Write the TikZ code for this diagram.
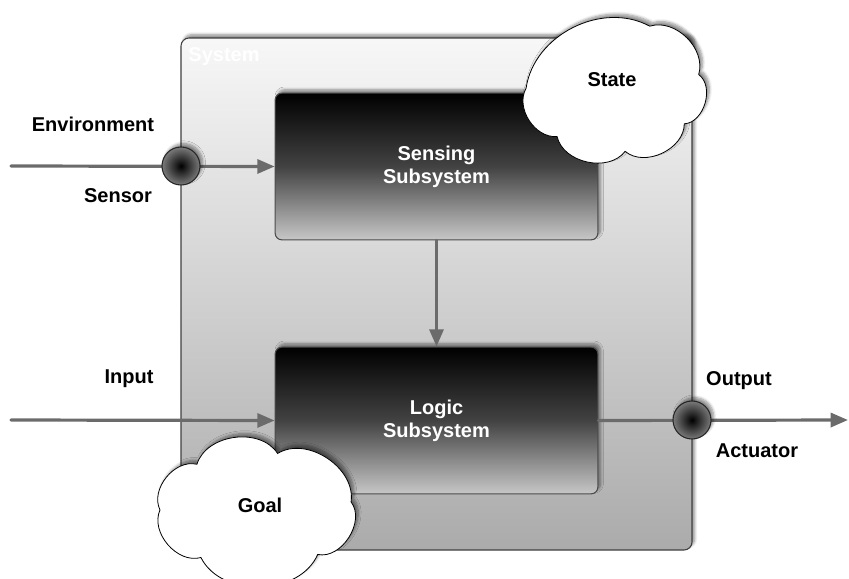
\documentclass[tikz,border=0pt]{standalone}
\usepackage{fontspec}
\setmainfont{Liberation Sans}
\usetikzlibrary{shadows.blur,arrows.meta}

\begin{document}
\begin{tikzpicture}[x=0.75pt,y=-0.75pt,
  font=\bfseries\fontsize{15}{17.5}\selectfont,
  softshadow/.style={blur shadow={shadow xshift=2pt,shadow yshift=2.5pt,shadow blur steps=6,shadow opacity=45}},
  frame/.style={draw=black!75, line width=0.8pt, rounded corners=6pt,
    top color=black!3, bottom color=black!33, softshadow},
  subsys/.style={draw=black!70, line width=0.8pt, rounded corners=5pt,
    top color=black, bottom color=black!22, middle color=black!74,
    minimum width=242pt, minimum height=110pt, text=white, align=center, softshadow},
  port/.style={circle, draw=black!85, line width=0.8pt, minimum size=28.5pt, inner sep=0pt,
    inner color=black, outer color=black!52, softshadow},
  bubble/.style={draw=black, line width=0.6pt, fill=white, softshadow},
  puff/.style={bend left=#1},
  conn/.style={draw=black!58, line width=2.4pt, line cap=round,
    -{Triangle[length=13pt,width=10.5pt]}},
  lbl/.style={text=black}
]
\useasboundingbox (0,0) rectangle (849,578);

% outer system frame
\draw[frame] (181,38) rectangle (692,550);
\node[text=white] (syslabel) at (224,57) {System};

% terminal points of the external signals
\coordinate (envin) at (11,166);
\coordinate (inputin) at (11,420);
\coordinate (outend) at (848,420);

% subsystems
\node[subsys] (sense) at (436.5,166.5) {Sensing\\Subsystem};
\node[subsys] (logic) at (436.5,420.5) {Logic\\Subsystem};

% signal flow
\draw[conn] (envin) -- (sense.west);
\draw[conn] (inputin) -- (logic.west);
\draw[conn] (sense.south) -- (logic.north);
\draw[conn] (logic.east) -- (outend);

% sensor and actuator ports
\node[port] (sensor) at (181,166) {};
\node[port] (actuator) at (692,420) {};

% state cloud (angles run clockwise on screen, y axis points down)
\path[bubble, shift={(613,86)}]
  (295:87 and 66) to[puff=62] (350:87 and 66) to[puff=70] (35:87 and 66)
  to[puff=65] (82:87 and 66) to[puff=65] (130:87 and 66)
  to[puff=62] (178:87 and 66) to[puff=55] (295:87 and 66) -- cycle;
\node (state) at (612,80) {State};

% goal cloud
\path[bubble, shift={(256,510)}]
  (283:96 and 58) to[puff=65] (352:96 and 58) to[puff=70] (50:96 and 58)
  to[puff=65] (125:96 and 58) to[puff=65] (180:96 and 58)
  to[puff=65] (232:96 and 58) to[puff=65] (283:96 and 58) -- cycle;
\node (goal) at (260,505) {Goal};

% labels
\node[lbl] (envlbl) at (93,124) {Environment};
\node[lbl] (sensorlbl) at (118,196) {Sensor};
\node[lbl] (inputlbl) at (129,379) {Input};
\node[lbl] (outputlbl) at (739,381) {Output};
\node[lbl] (actlbl) at (757,451) {Actuator};
\end{tikzpicture}
\end{document}
